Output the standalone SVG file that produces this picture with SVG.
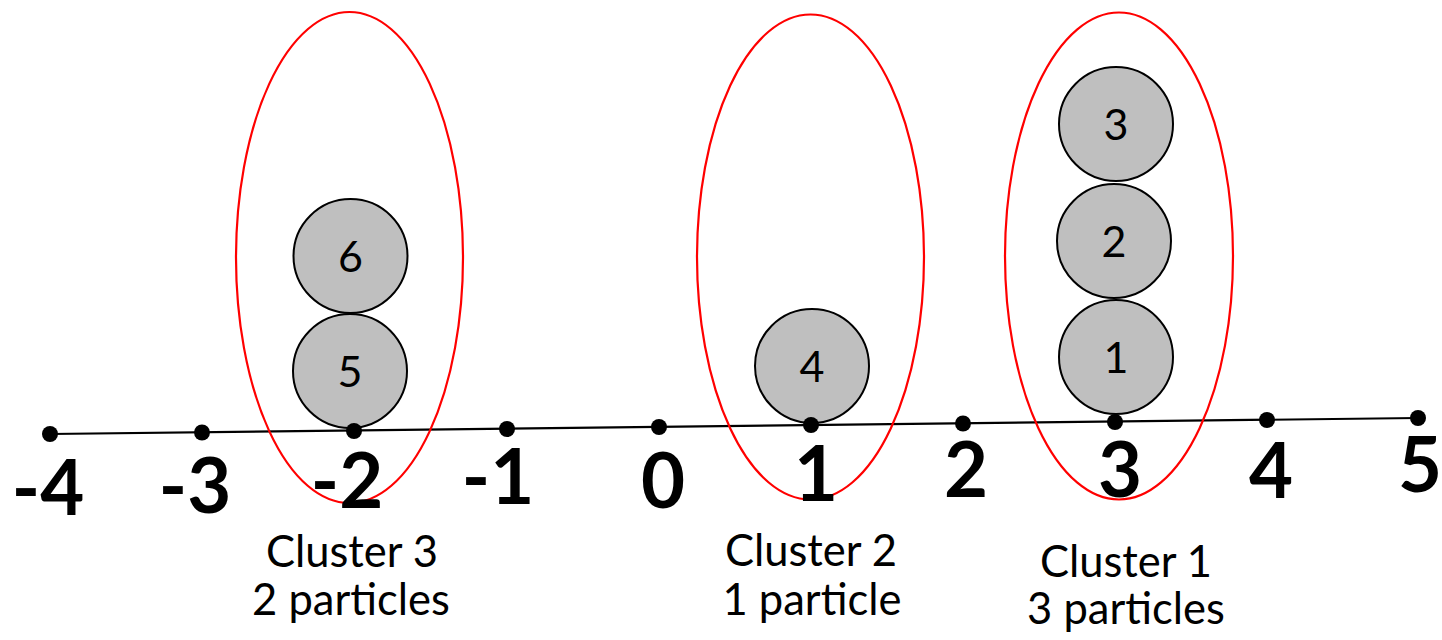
<svg xmlns="http://www.w3.org/2000/svg" width="1442" height="640" viewBox="0 0 1442 640">
<style>
.ell{fill:none;stroke:#ff0000;stroke-width:2.2}
.p{fill:#bfbfbf;stroke:#000;stroke-width:2}
.pt{font-family:Lato,"Open Sans","Liberation Sans",sans-serif;font-size:43px;fill:#000;text-anchor:middle}
.tk{font-family:Lato,"Liberation Sans",sans-serif;font-weight:bold;font-size:76px;fill:#000;text-anchor:middle}
.lb{font-family:Lato,"Open Sans","Liberation Sans",sans-serif;font-size:43.5px;fill:#000;text-anchor:middle}
.dot{fill:#000}
</style>
<rect width="1442" height="640" fill="#fff"/>
<g id="axis">
<line x1="50" y1="434" x2="1418" y2="418" stroke="#000" stroke-width="2.2"/>
</g>
<g id="clusters">
<g id="cluster3"><ellipse class="ell" cx="349.5" cy="257.5" rx="113.5" ry="245.5"/></g>
<g id="cluster2"><ellipse class="ell" cx="810.5" cy="257" rx="113.5" ry="242.5"/></g>
<g id="cluster1"><ellipse class="ell" cx="1119" cy="256" rx="114" ry="243.5"/></g>
</g>
<g id="particles">
<g id="p6"><circle class="p" cx="350.5" cy="256" r="57"/><text class="pt" x="350.5" y="272">6</text></g>
<g id="p5"><circle class="p" cx="350" cy="371" r="57"/><text class="pt" x="350" y="387">5</text></g>
<g id="p4"><circle class="p" cx="812" cy="366" r="57"/><text class="pt" x="812" y="382">4</text></g>
<g id="p3"><circle class="p" cx="1116" cy="124" r="57"/><text class="pt" x="1116" y="140">3</text></g>
<g id="p2"><circle class="p" cx="1114" cy="241" r="57"/><text class="pt" x="1114" y="257">2</text></g>
<g id="p1"><circle class="p" cx="1116" cy="357" r="57"/><text class="pt" x="1116" y="373">1</text></g>
</g>
<g id="ticks">
<circle class="dot" cx="50" cy="434" r="8"/>
<circle class="dot" cx="202" cy="432.5" r="8"/>
<circle class="dot" cx="354" cy="431" r="8"/>
<circle class="dot" cx="507" cy="429" r="8"/>
<circle class="dot" cx="659" cy="427" r="8"/>
<circle class="dot" cx="811" cy="425" r="8"/>
<circle class="dot" cx="963" cy="423.5" r="8"/>
<circle class="dot" cx="1115" cy="422" r="8"/>
<circle class="dot" cx="1267" cy="420" r="8"/>
<circle class="dot" cx="1418" cy="418" r="8"/>
</g>
<g id="tick-labels">
<text class="tk" x="48" y="515">-4</text>
<text class="tk" x="195" y="513">-3</text>
<text class="tk" x="347" y="508">-2</text>
<text class="tk" x="498" y="504">-1</text>
<text class="tk" x="663" y="508">0</text>
<text class="tk" x="816" y="501">1</text>
<text class="tk" x="966" y="497">2</text>
<text class="tk" x="1120" y="497">3</text>
<text class="tk" x="1271" y="498">4</text>
<text class="tk" x="1420" y="492">5</text>
</g>
<g id="labels">
<text class="lb" x="352" y="567">Cluster 3</text>
<text class="lb" x="351" y="615">2 particles</text>
<text class="lb" x="811" y="566">Cluster 2</text>
<text class="lb" x="812" y="615">1 particle</text>
<text class="lb" x="1126" y="577">Cluster 1</text>
<text class="lb" x="1126" y="624">3 particles</text>
</g>
</svg>
